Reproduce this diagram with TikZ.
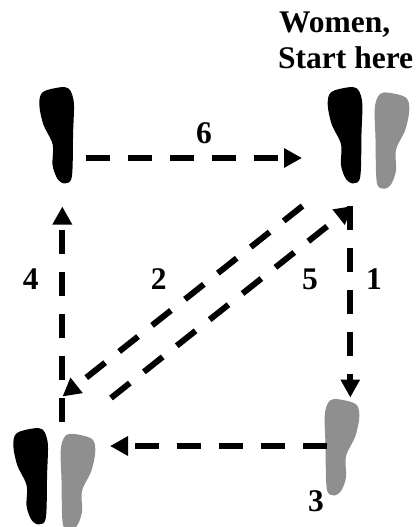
\documentclass[tikz,border=0pt]{standalone}
\usepackage{fontspec}
\setmainfont{Liberation Serif}
\usetikzlibrary{arrows.meta}
\definecolor{footgray}{gray}{0.56}
\tikzset{
  footshape/.pic={\fill[pic actions] plot[smooth cycle,tension=0.55] coordinates {(20.7,0) (29,1) (33,7.7) (34.7,19) (33.8,46) (32.6,89) (26,96) (18.5,92) (13.3,78) (13.3,57) (4,37) (0,17) (3.5,4.8)};},
  blackfoot/.style={fill=black},
  grayfoot/.style={fill=footgray,xscale=-1},
  walk/.style={line width=6pt,dash pattern=on 24pt off 18pt,-{Triangle[length=18pt,width=18.5pt,sep=0pt]},black},
  numlabel/.style={font=\fontsize{31.5}{36}\selectfont\bfseries,inner sep=0pt,anchor=center},
  title/.style={font=\fontsize{31.5}{36}\selectfont\bfseries,inner sep=0pt,anchor=base west}
}
\begin{document}
\begin{tikzpicture}[x=1pt,y=-1pt]
\useasboundingbox (0,0) rectangle (417,527);
% feet
\pic[blackfoot] at (39.3,87.3) {footshape};
\pic[blackfoot] at (327.7,87.3) {footshape};
\pic[blackfoot] at (13.3,428.3) {footshape};
\pic[grayfoot] at (409.3,92.7) {footshape};
\pic[grayfoot] at (359.3,399.3) {footshape};
\pic[grayfoot] at (95.3,434) {footshape};
% connector ends
\coordinate (s1) at (350.3,206);
\coordinate (e1) at (350.3,397.5);
\coordinate (s2) at (302.5,206);
\coordinate (e2) at (62.5,396.5);
\coordinate (s3) at (326.5,446);
\coordinate (e3) at (110,446);
\coordinate (s4) at (62.3,422);
\coordinate (e4) at (62.3,206.5);
\coordinate (s5) at (111,398);
\coordinate (e5) at (352.7,206);
\coordinate (s6) at (86,158);
\coordinate (e6) at (302,158);
\draw[walk] (s1) -- (e1);
\draw[walk] (s2) -- (e2);
\draw[walk] (s3) -- (e3);
\draw[walk] (s4) -- (e4);
\draw[walk] (s5) -- (e5);
\draw[walk] (s6) -- (e6);
% labels
\node[numlabel] (n6) at (204,133) {6};
\node[numlabel] (n4) at (30.7,279) {4};
\node[numlabel] (n2) at (158.7,279) {2};
\node[numlabel] (n5) at (310,279) {5};
\node[numlabel] (n1) at (374,279) {1};
\node[numlabel] (n3) at (316,501) {3};
\node[title] (t1) at (279,33) {Women,};
\node[title] (t2) at (278,69) {Start here};
\end{tikzpicture}
\end{document}
